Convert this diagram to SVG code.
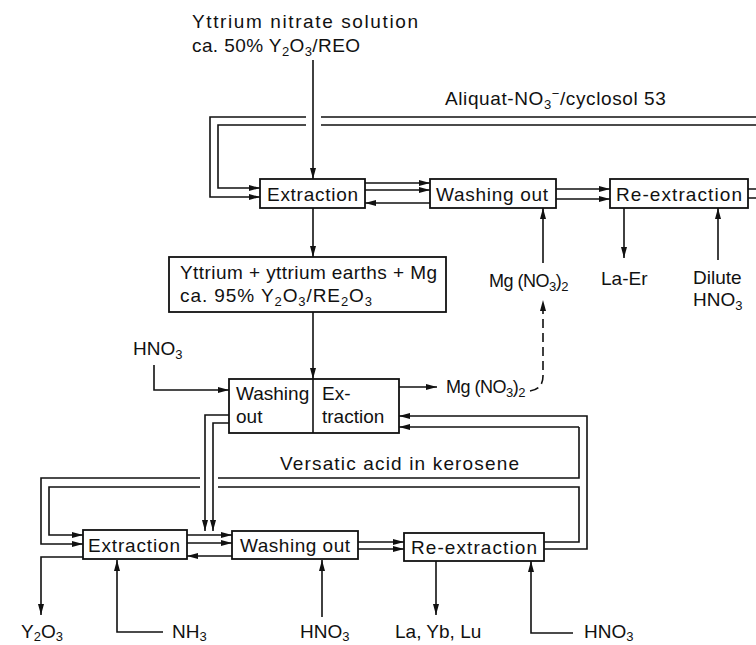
<svg xmlns="http://www.w3.org/2000/svg" width="756" height="645" viewBox="0 0 756 645">
<defs>
<marker id="ah" viewBox="0 0 11 6" refX="11" refY="3" markerWidth="11" markerHeight="6" markerUnits="userSpaceOnUse" orient="auto"><path d="M0,0 L11,3 L0,6 z" fill="#111"/></marker>
<style>
.box{fill:#fff;stroke:#111;stroke-width:1.8}
.ln{fill:none;stroke:#111;stroke-width:1.6}
.ar{fill:none;stroke:#111;stroke-width:1.6;marker-end:url(#ah)}
.ds{fill:none;stroke:#111;stroke-width:1.6;stroke-dasharray:9 5;marker-end:url(#ah)}
text{font-family:"Liberation Sans",Arial,sans-serif;font-size:19px;fill:#111}
.s{font-size:13px}
.mg{font-size:18px;letter-spacing:-0.5px}
</style>
</defs>
<rect width="756" height="645" fill="#fff"/>

<g id="connectors">
<path class="ar" d="M313,60 V179"/>
<path class="ar" d="M756,117 H321 M306,117 H210 V197 H260"/>
<path class="ar" d="M756,125 H321 M306,125 H218 V188 H260"/>
<path class="ar" d="M365,183 H430"/>
<path class="ar" d="M365,190 H430"/>
<path class="ar" d="M430,203 H365"/>
<path class="ar" d="M556,189 H610"/>
<path class="ar" d="M556,199 H610"/>
<path class="ln" d="M748,189 H756 M748,198 H756"/>
<path class="ar" d="M543,263 V208"/>
<path class="ar" d="M624,208 V258"/>
<path class="ar" d="M718,260 V208"/>
<path class="ar" d="M313,208 V257"/>
<path class="ar" d="M313,312 V379"/>
<path class="ar" d="M154,365 V390 H229"/>
<path class="ar" d="M399,387 H437"/>
<path class="ds" d="M530,391 Q543,389 543,376 V300"/>
<path class="ar" d="M229,415 H205 V531"/>
<path class="ar" d="M229,423 H213 V531"/>
<path class="ar" d="M544,549 H587 V416 H399"/>
<path class="ar" d="M579,427 H399"/>
<path class="ar" d="M579,427 V478 H218 M200,478 H41 V544 H83"/>
<path class="ar" d="M544,542 H579 V487 H218 M200,487 H49 V535 H83"/>
<path class="ar" d="M187,535 H232"/>
<path class="ar" d="M187,543 H232"/>
<path class="ar" d="M232,556 H187"/>
<path class="ar" d="M358,542 H404"/>
<path class="ar" d="M358,549 H404"/>
<path class="ar" d="M83,557 H41 V615"/>
<path class="ar" d="M163,632 H117 V560"/>
<path class="ar" d="M322,617 V560"/>
<path class="ar" d="M436,561 V615"/>
<path class="ar" d="M573,633 H531 V561"/>
</g>

<g id="feed">
<text x="192" y="28" textLength="226" lengthAdjust="spacing">Yttrium nitrate solution</text>
<text x="192" y="52" textLength="168" lengthAdjust="spacing">ca. 50% Y<tspan class="s" dy="4">2</tspan><tspan dy="-4">O</tspan><tspan class="s" dy="4">3</tspan><tspan dy="-4">/REO</tspan></text>
</g>

<g id="aliquat-label">
<text x="445" y="105" letter-spacing="0.6">Aliquat-NO<tspan class="s" dy="4">3</tspan><tspan class="s" dy="-11">−</tspan><tspan dy="7">/cyclosol 53</tspan></text>
</g>

<g id="extraction1">
<rect class="box" x="260" y="179" width="105" height="29"/>
<text x="267" y="201" textLength="91" lengthAdjust="spacing">Extraction</text>
</g>
<g id="washing1">
<rect class="box" x="430" y="179" width="126" height="29"/>
<text x="436" y="201" textLength="112" lengthAdjust="spacing">Washing out</text>
</g>
<g id="reextraction1">
<rect class="box" x="610" y="179" width="138" height="29"/>
<text x="616" y="201" textLength="126" lengthAdjust="spacing">Re-extraction</text>
</g>

<g id="mg-in">
<text class="mg" x="489" y="287">Mg (NO<tspan class="s" dy="4">3</tspan><tspan dy="-4">)</tspan><tspan class="s" dy="4">2</tspan></text>
</g>
<g id="la-er"><text x="601" y="285">La-Er</text></g>
<g id="dilute-hno3">
<text x="693" y="284">Dilute</text>
<text x="693" y="306">HNO<tspan class="s" dy="4">3</tspan></text>
</g>

<g id="concentrate">
<rect class="box" x="169" y="257" width="277" height="55"/>
<text x="180" y="279" textLength="257" lengthAdjust="spacing">Yttrium + yttrium earths + Mg</text>
<text x="180" y="302" textLength="192" lengthAdjust="spacing">ca.  95%  Y<tspan class="s" dy="4">2</tspan><tspan dy="-4">O</tspan><tspan class="s" dy="4">3</tspan><tspan dy="-4">/RE</tspan><tspan class="s" dy="4">2</tspan><tspan dy="-4">O</tspan><tspan class="s" dy="4">3</tspan></text>
</g>

<g id="hno3-mid"><text x="133" y="355">HNO<tspan class="s" dy="4">3</tspan></text></g>

<g id="wash-extract">
<rect class="box" x="229" y="379" width="170" height="54"/>
<line class="ln" x1="313" y1="379" x2="313" y2="433"/>
<text x="236" y="400">Washing</text>
<text x="236" y="423">out</text>
<text x="322" y="400">Ex-</text>
<text x="322" y="423">traction</text>
</g>

<g id="mg-out"><text class="mg" x="446" y="393">Mg (NO<tspan class="s" dy="4">3</tspan><tspan dy="-4">)</tspan><tspan class="s" dy="4">2</tspan></text></g>

<g id="versatic-label"><text x="280" y="470" textLength="239" lengthAdjust="spacing">Versatic acid in kerosene</text></g>

<g id="extraction2">
<rect class="box" x="83" y="530" width="104" height="29"/>
<text x="88" y="552" textLength="92" lengthAdjust="spacing">Extraction</text>
</g>
<g id="washing2">
<rect class="box" x="232" y="531" width="126" height="28"/>
<text x="240" y="552" textLength="110" lengthAdjust="spacing">Washing out</text>
</g>
<g id="reextraction2">
<rect class="box" x="404" y="533" width="140" height="28"/>
<text x="411" y="554" textLength="126" lengthAdjust="spacing">Re-extraction</text>
</g>

<g id="y2o3"><text x="21" y="638">Y<tspan class="s" dy="3">2</tspan><tspan dy="-3">O</tspan><tspan class="s" dy="3">3</tspan></text></g>
<g id="nh3"><text x="172" y="638">NH<tspan class="s" dy="3">3</tspan></text></g>
<g id="hno3-wash"><text x="300" y="638">HNO<tspan class="s" dy="3">3</tspan></text></g>
<g id="la-yb-lu"><text x="395" y="638">La, Yb, Lu</text></g>
<g id="hno3-re"><text x="584" y="638">HNO<tspan class="s" dy="3">3</tspan></text></g>
</svg>
